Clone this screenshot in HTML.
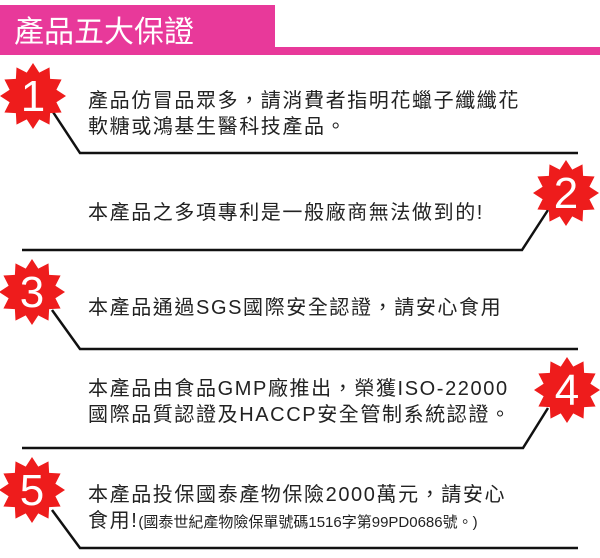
<!DOCTYPE html>
<html><head><meta charset="utf-8"><style>
html,body{margin:0;padding:0;background:#fff;}
body{width:600px;height:558px;position:relative;overflow:hidden;font-family:"Liberation Sans","Noto Sans CJK TC",sans-serif;}
svg{position:absolute;left:0;top:0;}
.t{position:absolute;left:88px;font-size:20px;letter-spacing:1.6px;line-height:26px;color:#222;white-space:nowrap;}
</style></head><body>
<svg width="600" height="558" viewBox="0 0 600 558">
<defs>
<polygon id="st" fill="#ee1c1c" transform="scale(1.1)" points="0,-30 5.69,-21.25 15,-25.98 15.56,-15.56 25.98,-15 21.25,-5.69 30,0 21.25,5.69 25.98,15 15.56,15.56 15,25.98 5.69,21.25 0,30 -5.69,21.25 -15,25.98 -15.56,15.56 -25.98,15 -21.25,5.69 -30,0 -21.25,-5.69 -25.98,-15 -15.56,-15.56 -15,-25.98 -5.69,-21.25"/>
</defs>
<rect x="0" y="5" width="275" height="50" fill="#e8399a"/>
<rect x="275" y="47" width="325" height="8" fill="#e8399a"/>
<text x="14" y="42" font-size="30" fill="#fff" font-family="Liberation Sans, Noto Sans CJK TC, sans-serif">產品五大保證</text>
<g stroke="#111" stroke-width="2.5" fill="none">
<polyline points="53,112 80,153 578,153"/>
<polyline points="22,250 522,250 548,210"/>
<polyline points="52,310 80,349 578,349"/>
<polyline points="22,448 523,448 548,408"/>
<polyline points="52,510 80,548 578,548"/>
</g>
<g font-family="Liberation Sans, sans-serif" font-size="44" fill="#fff" text-anchor="middle">
<use href="#st" x="33" y="96"/><text x="33" y="111">1</text>
<use href="#st" x="566" y="193"/><text x="566" y="208">2</text>
<use href="#st" x="32" y="292"/><text x="32" y="307">3</text>
<use href="#st" x="567" y="390"/><text x="567" y="405">4</text>
<use href="#st" x="32" y="490"/><text x="32" y="505">5</text>
</g>
</svg>
<div class="t" style="top:88px">產品仿冒品眾多，請消費者指明花蠟子纖纖花<br>軟糖或鴻基生醫科技產品。</div>
<div class="t" style="top:200px">本產品之多項專利是一般廠商無法做到的!</div>
<div class="t" style="top:295px">本產品通過SGS國際安全認證，請安心食用</div>
<div class="t" style="top:376px">本產品由食品GMP廠推出，榮獲ISO-22000<br>國際品質認證及HACCP安全管制系統認證。</div>
<div class="t" style="top:482px">本產品投保國泰產物保險2000萬元，請安心<br>食用!<span style="font-size:15px;letter-spacing:0">(國泰世紀產物險保單號碼1516字第99PD0686號。)</span></div>
</body></html>
